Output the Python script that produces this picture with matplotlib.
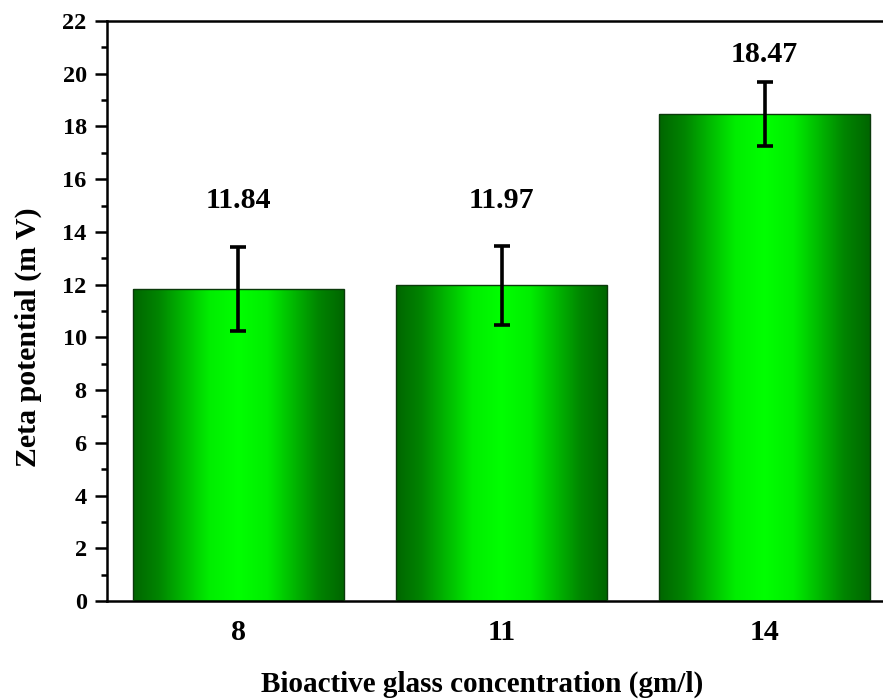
import numpy as np
import matplotlib
matplotlib.use("Agg")
import matplotlib.pyplot as plt
from matplotlib.colors import LinearSegmentedColormap
from matplotlib.ticker import MultipleLocator

# Zeta potential measurements per bioactive glass concentration
concentrations = ["8", "11", "14"]
zeta_mean = [11.84, 11.97, 18.47]
zeta_err = [1.6, 1.5, 1.2]

plt.rcParams["font.family"] = ["Liberation Serif", "DejaVu Serif"]
plt.rcParams["font.weight"] = "bold"

fig = plt.figure(figsize=(8.83, 7.0), dpi=100)
ax = fig.add_axes([0.121, 0.1414, 0.894, 0.8286])

x = np.arange(len(concentrations))
bars = ax.bar(x, zeta_mean, width=0.8, facecolor="none",
              edgecolor="#0b3a0b", linewidth=1.0, zorder=3)

# horizontal dark-bright-dark green shading inside each bar
green = LinearSegmentedColormap.from_list(
    "bar_green",
    [(0.0, (0.0, 0.40, 0.0)), (0.12, (0.0, 0.52, 0.0)),
     (0.36, (0.0, 0.93, 0.0)), (0.5, (0.0, 1.0, 0.0)),
     (0.64, (0.0, 0.93, 0.0)), (0.88, (0.0, 0.52, 0.0)),
     (1.0, (0.0, 0.40, 0.0))])
grad = np.linspace(0, 1, 256).reshape(1, -1)
for b in bars:
    x0, y0 = b.get_x(), b.get_y()
    w, h = b.get_width(), b.get_height()
    im = ax.imshow(grad, cmap=green, aspect="auto",
                   extent=(x0, x0 + w, y0, y0 + h), zorder=2,
                   interpolation="bilinear")
    im.set_clip_path(b)

ax.errorbar(x, zeta_mean, yerr=zeta_err, fmt="none", ecolor="black",
            elinewidth=2.6, capsize=6, capthick=2.6, zorder=4)

# value labels above the error bars
label_offsets = [33, 33, 20]
for xi, m, e, off in zip(x, zeta_mean, zeta_err, label_offsets):
    ax.annotate(f"{m:.2f}", xy=(xi, m + e), xytext=(0, off),
                textcoords="offset points", ha="center", va="center",
                fontsize=21.5, fontweight="bold")

ax.set_xlim(-0.5, 2.5)
ax.set_ylim(0, 22)
ax.yaxis.set_major_locator(MultipleLocator(2))
ax.yaxis.set_minor_locator(MultipleLocator(1))
ax.set_xticks(x)
ax.set_xticklabels(concentrations)

for side in ["left", "bottom", "top"]:
    ax.spines[side].set_linewidth(1.8)
ax.spines["right"].set_visible(False)

ax.tick_params(axis="y", which="major", direction="out", length=8.5,
               width=1.8, labelsize=17.5, pad=6)
ax.tick_params(axis="y", which="minor", direction="out", length=4.5,
               width=1.8)
ax.tick_params(axis="x", which="both", length=0, labelsize=21.5, pad=13)
for lab in ax.get_xticklabels() + ax.get_yticklabels():
    lab.set_fontweight("bold")

ax.set_ylabel("Zeta potential (m V)", fontsize=21.5, fontweight="bold",
              va="center", ha="center")
ax.yaxis.set_label_coords(-0.1, 0.455)
ax.set_xlabel("Bioactive glass concentration (gm/l)", fontsize=21,
              fontweight="bold", va="center", ha="center")
ax.xaxis.set_label_coords(0.475, -0.143)

fig.savefig("out.png", dpi=100)
